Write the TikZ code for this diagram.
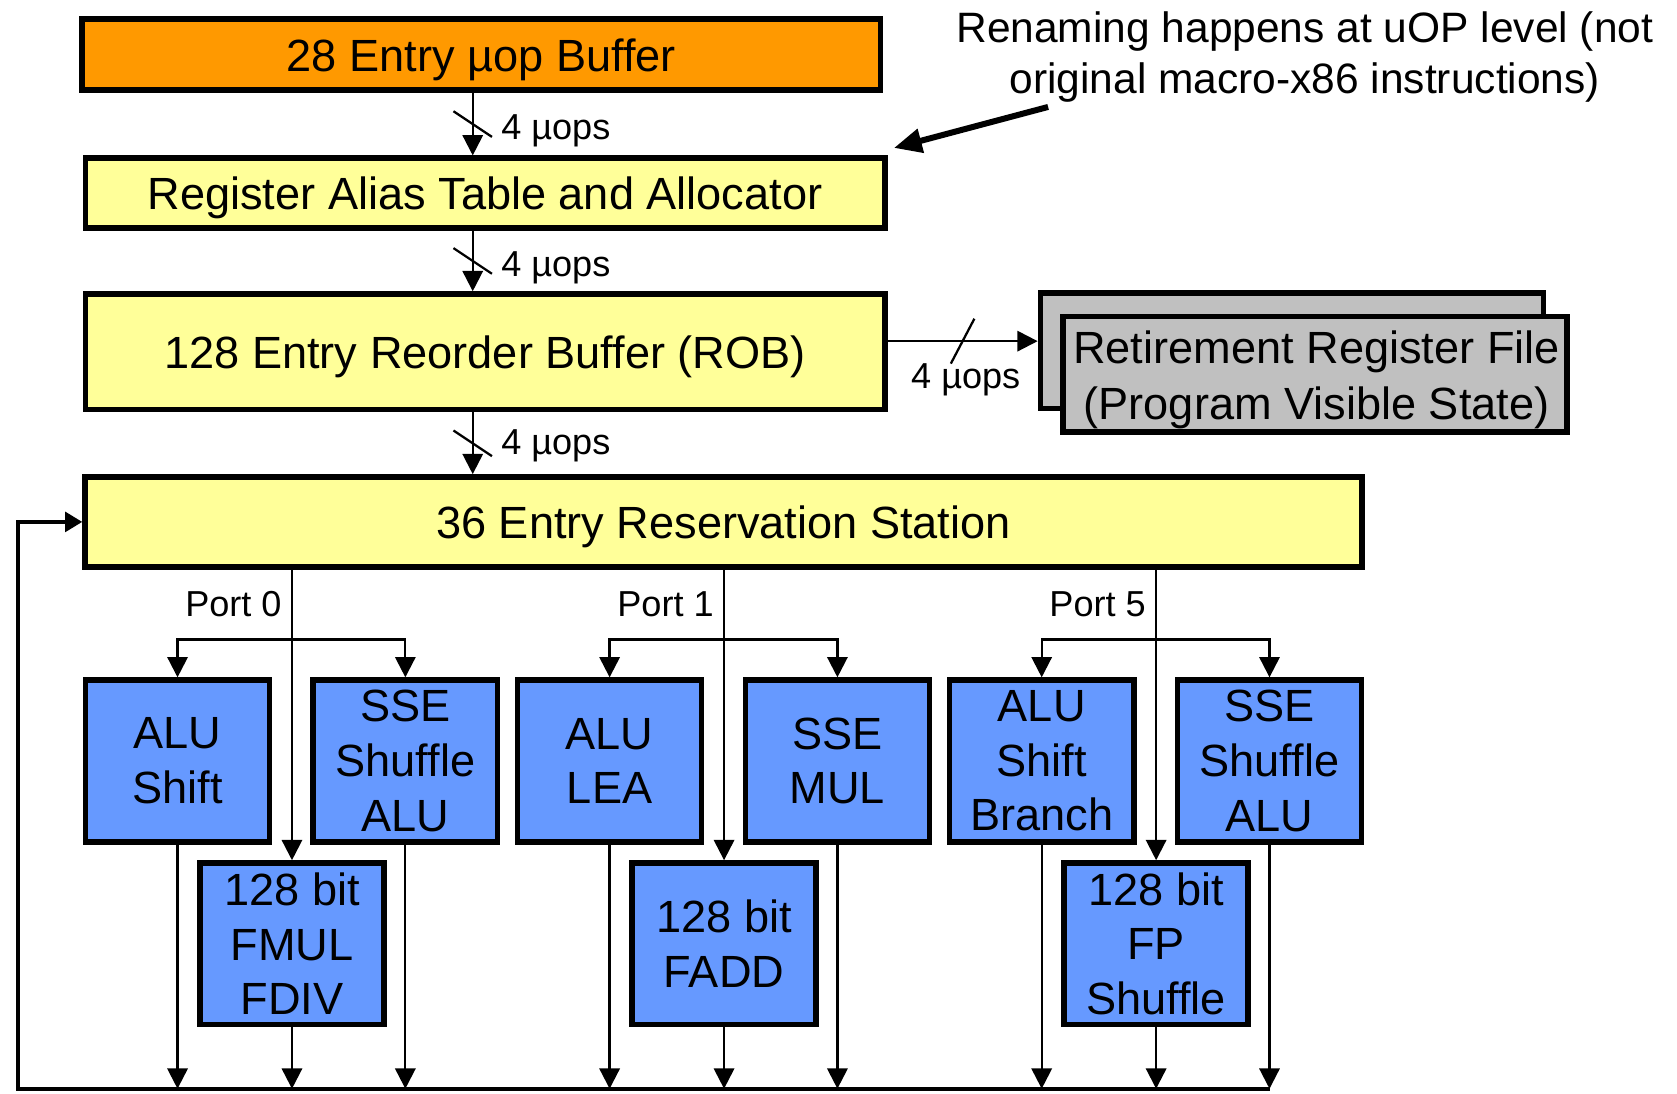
\documentclass[tikz,border=0pt]{standalone}
\usepackage{fontspec}
\setmainfont{Liberation Sans}
\usepackage{tikz}
\usetikzlibrary{positioning,arrows.meta}
\definecolor{bufferorange}{HTML}{FF9900}
\definecolor{stageyellow}{HTML}{FFFF99}
\definecolor{unitblue}{HTML}{6699FF}
\definecolor{rrfgray}{HTML}{C0C0C0}

\begin{document}
\begin{tikzpicture}[x=0.01cm,y=-0.01cm]
            \tikzstyle{every node}=[font=\fontsize{12}{14.5}\selectfont]
            \tikzstyle{stage}=[draw, line width=1.5pt, inner sep=0pt, align=center]
            \tikzstyle{oneline}=[stage, text height=8.8pt, text depth=0pt]
            \tikzstyle{unit}=[stage, fill=unitblue, minimum width=1.72cm, minimum height=1.51cm]
            \tikzstyle{flow}=[line width=0.6pt, -{Triangle[length=1.9mm,width=1.9mm]}]
            \tikzstyle{uops}=[font=\fontsize{9.6}{11}\selectfont, inner sep=0pt]
            \useasboundingbox (0,0) rectangle (1568,1022);
            \node [oneline, fill=bufferorange, minimum width=7.46cm, minimum height=0.66cm] (buf) at (450,51) {28 Entry µop Buffer};
            \node [oneline, fill=stageyellow, minimum width=7.47cm, minimum height=0.65cm] (rat) at (453.5,180.5) {Register Alias Table and Allocator};
            \node [oneline, fill=stageyellow, minimum width=7.47cm, minimum height=1.08cm] (rob) at (453.5,329) {128 Entry Reorder Buffer (ROB)};
            \node [stage, fill=rrfgray, minimum width=4.70cm, minimum height=1.08cm] (rrfback) at (1208,328) {};
            \node [stage, fill=rrfgray, minimum width=4.71cm, minimum height=1.08cm] (rrf) at (1229.5,350) {};
            \node [font=\fontsize{12}{15}\selectfont, align=center, inner sep=0pt] (rrftext) at (1231,355) {Retirement Register File\\(Program Visible State)};
            \node [oneline, fill=stageyellow, minimum width=11.93cm, minimum height=0.84cm] (rs) at (676.5,488) {36 Entry Reservation Station};
            \node [unit] (alu0) at (166,711.5) {ALU\\Shift};
            \node [unit] (sse0) at (379,711.5) {SSE\\Shuffle\\ALU};
            \node [unit] (alu1) at (570,711.5) {ALU\\LEA};
            \node [unit] (sse1) at (783,711.5) {SSE\\MUL};
            \node [unit] (alu5) at (974,711.5) {ALU\\Shift\\Branch};
            \node [unit] (sse5) at (1187,711.5) {SSE\\Shuffle\\ALU};
            \node [unit] (fmul) at (273,882.5) {128 bit\\FMUL\\FDIV};
            \node [unit] (fadd) at (677,882.5) {128 bit\\FADD};
            \node [unit] (fpsh) at (1081,882.5) {128 bit\\FP\\Shuffle};
            \node [font=\fontsize{11.3}{13.6}\selectfont, align=center, inner sep=0pt] (note) at (1220,53) {Renaming happens at uOP level (not\\original macro-x86 instructions)};
            \coordinate (notetail) at (980,100);
            \draw [line width=1.6pt, -{Triangle[length=2.6mm,width=2.2mm]}] (notetail) -- ([shift={(6,-7)}]rat.north east);
            \coordinate (spine) at (442,0);
            \draw [flow] (buf.south -| spine) -- (rat.north -| spine) coordinate [pos=0.5] (cut1);
            \draw [flow] (rat.south -| spine) -- (rob.north -| spine) coordinate [pos=0.5] (cut2);
            \draw [flow] (rob.south -| spine) -- (rs.north -| spine) coordinate [pos=0.5] (cut3);
            \draw [flow] ([yshift=0.1cm]rob.east) -- ([yshift=0.1cm]rob.east -| rrfback.west) coordinate [pos=0.5] (cut4);
            \foreach \c in {cut1,cut2,cut3}
                \draw [line width=0.6pt] ([shift={(-18,-12)}]\c) -- ([shift={(18,12)}]\c);
            \draw [line width=0.6pt] ([shift={(-11,21)}]cut4) -- ([shift={(11,-21)}]cut4);
            \node [uops, anchor=west] (uops1) at (468,122) {4 µops};
            \node [uops, anchor=west] (uops2) at (468,250) {4 µops};
            \node [uops, anchor=west] (uops3) at (468,417) {4 µops};
            \node [uops] (uops4) at (903,355) {4 µops};
            \coordinate (fork) at (0,598);
            \draw [flow] (rs.south -| fmul) -- (fmul.north);
            \draw [flow] (rs.south -| fadd) -- (fadd.north);
            \draw [flow] (rs.south -| fpsh) -- (fpsh.north);
            \draw [flow] (fmul |- fork) -| (alu0.north);
            \draw [flow] (fmul |- fork) -| (sse0.north);
            \draw [flow] (fadd |- fork) -| (alu1.north);
            \draw [flow] (fadd |- fork) -| (sse1.north);
            \draw [flow] (fpsh |- fork) -| (alu5.north);
            \draw [flow] (fpsh |- fork) -| (sse5.north);
            \node [uops, anchor=east] (port0) at (264,565) {Port 0};
            \node [uops, anchor=east] (port1) at (668,565) {Port 1};
            \node [uops, anchor=east] (port5) at (1072,565) {Port 5};
            \coordinate (busl) at (17,1018);
            \foreach \u in {alu0,sse0,alu1,sse1,alu5,sse5,fmul,fadd,fpsh}
                \draw [flow] (\u.south) -- (\u.south |- busl);
            \draw [line width=1.2pt, -{Triangle[length=1.6mm,width=1.8mm]}] (sse5.south |- busl) -- (busl) |- (rs.west);
        \end{tikzpicture}
\end{document}
